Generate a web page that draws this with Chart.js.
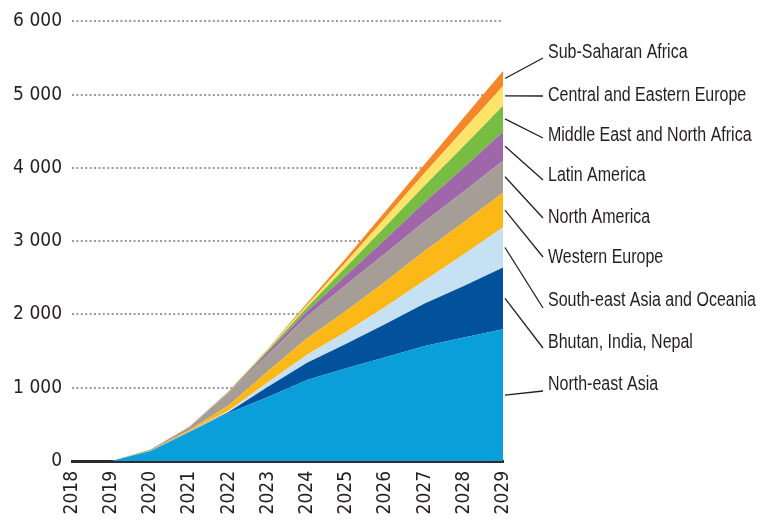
<!DOCTYPE html>
<html>
<head>
<meta charset="utf-8">
<script src="https://cdn.jsdelivr.net/npm/chart.js@4"></script>
<style>
  body { margin: 0; background: #fff; }
  #wrap { width: 776px; height: 520px; }
</style>
</head>
<body>
<div id="wrap"><canvas id="chart" width="776" height="520"></canvas></div>
<script>
// Anos e séries (empilhadas de baixo para cima)
const anos = ['2018', '2019', '2020', '2021', '2022', '2023', '2024', '2025', '2026', '2027', '2028', '2029'];

const northEastAsia   = [0, 0, 135, 395, 655, 875, 1105, 1265, 1415, 1570, 1685, 1797];
const bhutanIndia     = [0, 0, 0, 3, 15, 140, 235, 335, 455, 580, 705, 844];
const southEastAsia   = [0, 0, 0, 5, 20, 60, 110, 165, 235, 315, 433, 546];
const westernEurope   = [0, 0, 8, 20, 70, 150, 225, 285, 345, 400, 437, 474];
const northAmerica    = [0, 0, 15, 40, 170, 230, 300, 355, 385, 405, 420, 438];
const latinAmerica    = [0, 0, 0, 3, 10, 35, 70, 130, 190, 260, 325, 393];
const middleEast      = [0, 0, 0, 2, 5, 25, 55, 115, 175, 230, 295, 356];
const centralEurope   = [0, 0, 0, 1, 5, 12, 30, 70, 120, 170, 225, 271];
const subSaharan      = [0, 0, 0, 1, 4, 10, 25, 55, 90, 120, 165, 203];

const nomes = [
  'North-east Asia', 'Bhutan, India, Nepal', 'South-east Asia and Oceania',
  'Western Europe', 'North America', 'Latin America',
  'Middle East and North Africa', 'Central and Eastern Europe', 'Sub-Saharan Africa'
];
const series = [northEastAsia, bhutanIndia, southEastAsia, westernEurope, northAmerica,
  latinAmerica, middleEast, centralEurope, subSaharan];
const cores = ['#0a9fda', '#02529b', '#c7e1f4', '#fbb817', '#a69e96',
  '#9f67aa', '#77bc43', '#fee46b', '#f5862a'];

const yTicks = [0, 1000, 2000, 3000, 4000, 5000, 6000];

// posição dos rótulos à direita (centro do texto / fim da linha)
const rotuloY = [385, 343, 301, 258, 218, 176, 136, 96, 53];
const linhaFimY = [391, 348, 308, 257, 218, 180, 138, 96, 58];

const FONTE_EIXO = "'DejaVu Sans Condensed', 'Liberation Sans', sans-serif";
const TXT = '#231f20';

const rotulosPlugin = {
  id: 'rotulos',
  afterDatasetsDraw(chart) {
    const ctx = chart.ctx;
    const yScale = chart.scales.y;
    ctx.save();
    ctx.strokeStyle = TXT;
    ctx.lineWidth = 1.3;
    series.forEach((s, i) => {
      const meta = chart.getDatasetMeta(i);
      const n = meta.data.length - 1;
      const last = meta.data[n];
      const base = i === 0 ? yScale.getPixelForValue(0) : chart.getDatasetMeta(i - 1).data[n].y;
      const meio = (last.y + base) / 2;
      ctx.beginPath();
      ctx.moveTo(last.x + 2, meio);
      ctx.lineTo(543, linhaFimY[i]);
      ctx.stroke();
    });
    // texto estreito: Liberation Sans comprimida na horizontal
    ctx.fillStyle = TXT;
    ctx.font = "19.5px 'Liberation Sans', Arial, sans-serif";
    ctx.textBaseline = 'middle';
    ctx.textAlign = 'left';
    ctx.translate(548, 0);
    ctx.scale(0.82, 1);
    series.forEach((s, i) => {
      ctx.fillText(nomes[i], 0, rotuloY[i]);
    });
    ctx.restore();
  }
};

new Chart(document.getElementById('chart').getContext('2d'), {
  type: 'line',
  data: {
    labels: anos,
    datasets: series.map((s, i) => ({
      label: nomes[i],
      data: s,
      backgroundColor: cores[i],
      borderWidth: 0,
      borderColor: cores[i],
      pointRadius: 0,
      fill: i === 0 ? 'origin' : '-1',
      tension: 0
    }))
  },
  options: {
    responsive: false,
    animation: false,
    layout: { padding: { top: 18, right: 273, bottom: 0, left: 0 } },
    plugins: { legend: { display: false }, tooltip: { enabled: false } },
    scales: {
      x: {
        offset: false,
        grid: { display: false, drawTicks: false },
        border: { display: true, color: '#2b2b2b', width: 3 },
        ticks: {
          color: TXT,
          font: { family: FONTE_EIXO, size: 19 },
          minRotation: 90,
          maxRotation: 90,
          padding: 10,
          autoSkip: false
        },
        afterFit(scale) { scale.height = 59; }
      },
      y: {
        stacked: true,
        min: 0,
        max: 6000,
        afterBuildTicks(scale) { scale.ticks = yTicks.map(v => ({ value: v })); },
        border: { display: false, dash: [2, 2.4] },
        grid: {
          drawTicks: false,
          lineWidth: 2,
          color: ctx => ctx.tick && ctx.tick.value === 0 ? 'rgba(0,0,0,0)' : '#9b9b9b'
        },
        ticks: {
          color: TXT,
          font: { family: FONTE_EIXO, size: 19 },
          padding: 10,
          callback: v => v.toLocaleString('fr-FR').replace(/\s/g, ' ')
        },
        afterFit(scale) { scale.width = 72; }
      }
    }
  },
  plugins: [rotulosPlugin]
});
</script>
</body>
</html>
